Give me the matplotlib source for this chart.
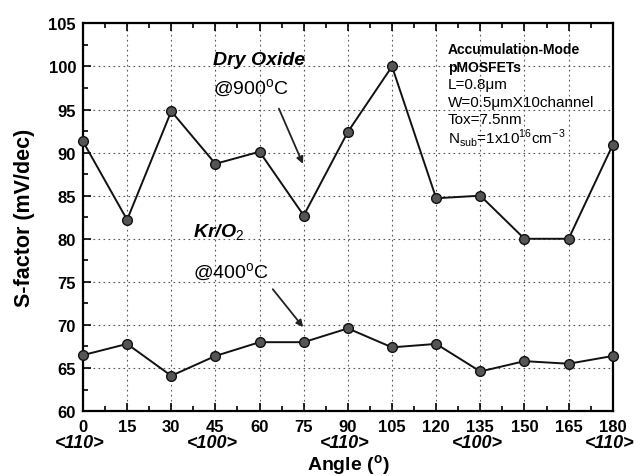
import numpy as np
import matplotlib.pyplot as plt
from matplotlib.ticker import MultipleLocator

plt.rcParams['font.family'] = ['Liberation Sans', 'DejaVu Sans']
plt.rcParams['mathtext.fontset'] = 'custom'
plt.rcParams['mathtext.rm'] = 'Liberation Sans'
plt.rcParams['mathtext.bf'] = 'Liberation Sans:bold'

# data
angle = [0, 15, 30, 45, 60, 75, 90, 105, 120, 135, 150, 165, 180]
dry_oxide = [91.3, 82.2, 94.8, 88.7, 90.1, 82.7, 92.4, 100.0, 84.7, 85.0, 80.0, 80.0, 90.9]
kr_o2 = [66.5, 67.8, 64.1, 66.4, 68.0, 68.0, 69.6, 67.4, 67.8, 64.6, 65.8, 65.5, 66.4]
dir_pos = [0, 45, 90, 135, 180]
dir_labels = ['<110>', '<100>', '<110>', '<100>', '<110>']

fig = plt.figure(figsize=(6.43, 4.77), dpi=100)
ax = fig.add_axes([0.129, 0.136, 0.824, 0.813])

mk = dict(marker='o', markersize=7, markerfacecolor='#555555',
          markeredgecolor='#111111', markeredgewidth=1.0,
          color='#111111', lw=1.4, clip_on=False, zorder=3)
ax.plot(angle, dry_oxide, **mk)
ax.plot(angle, kr_o2, **mk)

ax.set_xlim(0, 180)
ax.set_ylim(60, 105)
ax.xaxis.set_major_locator(MultipleLocator(15))
ax.xaxis.set_minor_locator(MultipleLocator(7.5))
ax.yaxis.set_major_locator(MultipleLocator(5))
ax.yaxis.set_minor_locator(MultipleLocator(2.5))
ax.tick_params(which='both', direction='in', top=True, right=False, width=1.2)
ax.tick_params(which='major', length=6, labelsize=12)
ax.tick_params(which='minor', length=3.5)
ax.tick_params(axis='x', pad=6)
ax.tick_params(axis='y', pad=5)
for lab in ax.get_xticklabels() + ax.get_yticklabels():
    lab.set_fontweight('bold')
for s in ax.spines.values():
    s.set_linewidth(1.6)
ax.grid(True, which='major', ls=(0, (1.5, 3)), color='#555555', lw=0.8)

# crystal direction labels under the ticks
for p, t in zip(dir_pos, dir_labels):
    ax.annotate(t, xy=(p, 60), xycoords='data', xytext=(-2, -22.5),
                textcoords='offset points', ha='center', va='center',
                fontsize=13, fontweight='bold', style='italic',
                annotation_clip=False)

ax.set_xlabel('Angle ($^\\mathbf{o}$)', fontsize=14, fontweight='bold')
ax.xaxis.set_label_coords(0.5, -0.137)
ax.xaxis.label.set_va('center')
ax.set_ylabel('S-factor (mV/dec)', fontsize=15.5, fontweight='bold')
ax.yaxis.set_label_coords(-0.111, 0.5)
ax.yaxis.label.set_va('center')

# annotations
ax.text(44.2, 100.8, 'Dry Oxide', fontsize=14, fontweight='bold', style='italic',
        ha='left', va='center')
ax.text(44.2, 97.5, '@900$^\\mathrm{o}$C', fontsize=14, ha='left', va='center')
ax.annotate('', xy=(75.1, 88.4), xytext=(66.2, 95.4),
            arrowprops=dict(arrowstyle='-|>', color='#222222', lw=1.3,
                            mutation_scale=10))
ax.text(37.4, 80.8, 'Kr/O$_2$', fontsize=14, fontweight='bold', style='italic',
        ha='left', va='center')
ax.text(37.4, 76.2, '@400$^\\mathrm{o}$C', fontsize=14, ha='left', va='center')
ax.annotate('', xy=(75.4, 69.5), xytext=(63.9, 74.4),
            arrowprops=dict(arrowstyle='-|>', color='#222222', lw=1.3,
                            mutation_scale=10))

info = [('Accumulation-Mode', 'bold', 10), ('pMOSFETs', 'bold', 10),
        ('L=0.8μm', 'normal', 11), ('W=0.5μmX10channel', 'normal', 11),
        ('Tox=7.5nm', 'normal', 11),
        ('N$_{\\mathrm{sub}}$=1x10$^{16}$cm$^{-3}$', 'normal', 11)]
for i, (t, w, fs) in enumerate(info):
    ax.text(124.0, 102.0 - i * 2.03, t, fontsize=fs, fontweight=w,
            ha='left', va='center')

fig.savefig('out.png', dpi=100)
